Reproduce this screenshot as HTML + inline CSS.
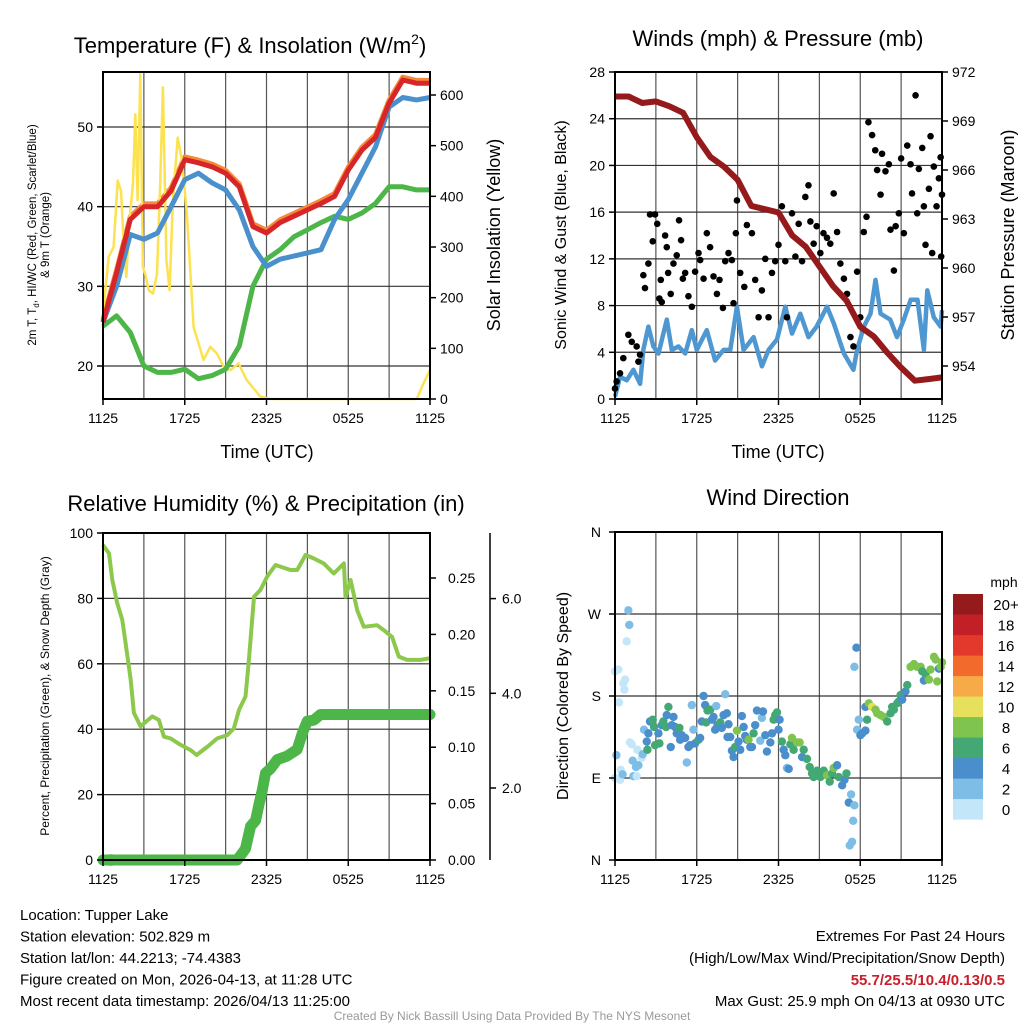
<!DOCTYPE html>
<html><head><meta charset="utf-8"><style>
body{margin:0;background:#fff}
svg{display:block;font-family:"Liberation Sans",Arial,sans-serif}
</style></head><body>
<svg id="fig" width="1024" height="1024" viewBox="0 0 1024 1024">
<rect width="1024" height="1024" fill="#fff"/>
</svg>
<script>
// ---------- data ----------
const xTickLabels = ["1125","1725","2325","0525","1125"];
// Panel 1: temperatures (hourly)
const tempHours = [0,1,2,3,4,5,6,7,8,9,10,11,12,13,14,15,16,17,18,19,20,21,22,23,24];
const tempRed = [25.5,31.7,38.4,40,40,42,45.9,45.5,45,44.2,42.5,37.5,36.7,38,38.8,39.6,40.4,41.3,44.6,47.1,48.7,53,55.9,55.5,55.5];
const tempBlue = [25.5,30,36.5,35.9,36.7,40,43.4,44.2,43,42.1,39.6,35,32.5,33.4,33.8,34.2,34.6,38.4,40.9,44.2,47.5,52.5,53.7,53.4,53.7];
const tempGreen = [25,26.3,24.2,20,19.2,19.2,19.6,18.4,18.8,19.6,22.5,30,33.4,34.6,36.2,37.1,38,38.8,38.4,39.2,40.4,42.5,42.5,42.1,42.1];
const solarHours = [0,.42,.78,1.08,1.32,1.52,1.71,1.96,2.2,2.37,2.54,2.74,2.93,3.1,3.35,3.67,3.96,4.2,4.4,4.65,4.89,5.13,5.48,5.8,6.16,6.65,7.38,7.87,8.36,8.85,9.34,9.95,10.56,11.54,12.27,23.03,23.52,24];
const solarVals = [169,280,300,431,411,307,241,359,425,562,392,641,260,247,215,208,247,425,615,274,215,392,516,470,366,142,77,103,90,64,57,70,37,5,0,0,31,57];
const leftTicks1 = [20,30,40,50];
const rightTicks1 = [0,100,200,300,400,500,600];
// Panel 2: winds & pressure
const presHours = [0,1,2,3,4,5,6,7,8,9,10,11,12,13,14,15,16,17,18,19,20,21,22,23,24];
const presVals = [970.5,970.5,970.1,970.2,969.9,969.5,968.0,966.8,966.2,965.4,963.8,963.6,963.4,962.0,961.3,960.1,958.9,958.0,956.4,955.8,954.8,953.9,953.1,953.2,953.3];
const windHours = [0,.37,.86,1.35,1.84,2.08,2.45,2.82,3.19,3.8,4.17,4.66,5.15,5.64,6.0,6.74,7.35,7.97,8.46,8.95,9.44,10.17,10.78,11.27,11.89,12.5,12.99,13.6,14.2,14.8,15.56,16.05,16.8,17.5,17.77,18.26,18.75,19.12,19.49,20.2,20.7,21.2,21.7,22.2,22.67,22.92,23.4,23.9,24];
const windVals = [0.2,1.9,1.6,2.5,1.3,4.2,6.2,4.5,3.9,6.8,4.2,4.5,3.9,5.9,4.2,5.9,3.3,4.2,4.2,7.9,4.2,5.3,2.8,4.2,5.1,7.9,5.6,7.3,5.3,6.2,7.9,6.5,3.9,2.5,4.2,6.2,7.3,10.2,7.3,6.8,5.3,6.8,8.5,8.5,4.2,9.3,7.0,6.2,7.6];
const gustHours = [0,.12,.37,.61,.98,1.23,1.59,1.72,1.84,2.08,2.2,2.45,2.57,2.77,2.94,3.1,3.26,3.36,3.43,3.68,3.8,3.9,4.09,4.29,4.53,4.7,4.85,4.98,5.15,5.39,5.64,5.88,6.13,6.25,6.5,6.74,6.98,7.23,7.48,7.67,7.92,8.09,8.33,8.58,8.7,8.87,8.95,9.19,9.49,9.68,10.05,10.29,10.54,10.78,11.03,11.27,11.52,11.76,12.0,12.25,12.5,12.62,12.99,13.24,13.48,13.73,13.97,14.2,14.34,14.58,14.8,15.07,15.3,15.56,15.8,16.05,16.3,16.54,16.8,17.03,17.28,17.5,17.77,18.0,18.26,18.46,18.6,18.87,19.1,19.24,19.49,19.6,19.85,20.1,20.22,20.47,20.6,20.83,21.0,21.2,21.45,21.69,21.8,22.06,22.18,22.3,22.55,22.67,22.79,23.04,23.16,23.28,23.4,23.6,23.77,23.9,23.94,24];
const gustVals = [0.9,1.5,2.2,3.5,5.5,4.9,4.5,3.2,3.8,10.6,9.5,11.6,15.8,13.5,15.8,15.0,8.6,10.2,8.3,14.0,13.0,10.8,9.0,11.6,12.3,15.3,13.6,10.3,10.8,8.8,7.9,10.9,12.5,11.9,10.3,14.2,13.0,10.5,9.0,10.2,7.8,11.8,12.5,11.9,8.2,14.2,17.0,10.8,9.6,14.9,14.2,10.2,7.0,9.3,12.0,7.0,10.8,11.8,13.2,16.5,11.8,7.0,15.9,12.2,15.0,11.8,17.3,18.3,15.2,13.3,14.8,12.5,14.2,13.8,13.3,17.6,14.3,11.6,10.3,9.0,5.3,4.5,10.9,7.0,14.3,15.6,23.7,22.6,21.3,19.6,17.5,21.0,19.5,20.1,14.5,11.0,14.8,15.9,20.6,14.2,21.7,20.1,17.6,26.0,15.9,19.7,21.5,16.5,13.2,18.0,22.5,12.5,19.9,16.5,18.9,20.7,12.2,17.5];
const windTicks = [0,4,8,12,16,20,24,28];
const presTicks = [954,957,960,963,966,969,972];
// Panel 3: RH & precip
const rhHours = [0,.44,.68,1.05,1.42,1.66,2.03,2.27,2.76,3.62,4.1,4.47,4.96,5.7,6.43,6.87,7.65,8.39,9.12,9.6,9.98,10.46,10.71,11.08,11.56,12.05,12.66,13.76,14.25,14.87,15.48,16.2,16.94,17.68,17.8,18.17,18.66,19.14,20.12,20.6,21.22,21.71,22.32,23.3,24];
const rhVals = [96.3,93.8,85.6,78.5,73.4,66.3,55.1,45,40.9,43.9,42.8,37.7,37.2,35.2,33.6,32.1,34.6,37.2,38.2,40.2,45.9,50,61.2,80.5,82.6,86.7,90.2,88.7,88.7,93.3,92.2,90.7,87.6,90.7,80.5,85.6,76.4,71.3,71.8,70.3,68.2,62.2,61.2,61.2,61.7];
const precipHours = [0,9.85,10.46,10.83,11.2,11.44,11.69,11.93,12.3,12.79,13.5,14.25,14.62,14.99,15.48,15.96,24];
const precipVals = [0,0,.010,.030,.035,.049,.062,.077,.081,.089,.092,.098,.112,.123,.124,.129,.129];
const rhTicks = [0,20,40,60,80,100];
const precipTicks = ["0.00","0.05","0.10","0.15","0.20","0.25"];
const snowTicks = ["2.0","4.0","6.0"];
// Panel 4: wind direction
const dirHours = [0,.25,.61,.74,.69,.3,.86,.98,1.05,.1,0,.37,.42,.56,1.1,1.23,1.35,1.59,1.54,1.72,1.3,1.64,1.96,2.03,2.13,2.33,2.38,2.45,2.57,2.77,2.87,2.94,3.19,3.26,3.43,3.55,3.75,3.8,3.92,4.09,4.17,4.29,4.41,4.53,4.73,4.78,4.9,5.15,5.27,5.39,5.51,5.64,5.76,5.88,6.13,6.25,6.37,6.5,6.62,6.69,6.79,6.99,7.11,7.23,7.35,7.43,7.52,7.72,7.84,7.97,8.09,8.21,8.26,8.33,8.46,8.58,8.7,8.82,8.95,9.07,9.19,9.31,9.44,9.56,9.68,9.8,9.93,10.05,10.17,10.29,10.42,10.66,10.78,10.86,11.03,11.15,11.4,11.52,11.64,11.76,11.89,12.0,12.08,12.25,12.38,12.5,12.62,12.75,12.87,12.99,13.11,13.36,13.55,13.73,13.85,14.09,14.29,14.46,14.58,14.83,15.07,15.32,15.56,15.76,15.93,16.05,16.3,16.42,16.67,16.84,16.99,17.16,17.33,17.57,17.48,17.4,17.23,17.57,17.72,17.77,17.89,18.01,18.14,18.38,18.5,18.38,18.63,18.87,19.12,19.24,19.49,19.73,19.98,20.22,20.34,20.47,20.71,20.83,20.96,21.08,21.32,21.45,21.69,21.94,22.18,22.43,22.55,22.67,22.79,23.04,23.16,23.41,23.53,23.65,23.77,23.9,24];
const dirDeg = [207,209,194,198,187,173,240,274,258,115,90,88,99,94,129,127,92,92,102,104,109,121,112,116,143,130,121,139,152,154,146,126,139,128,148,152,146,159,168,124,148,157,146,139,145,132,137,134,107,124,126,170,143,128,132,134,152,180,170,151,164,165,154,157,143,169,148,151,145,159,182,161,135,149,135,120,113,124,142,130,121,158,146,136,132,132,124,124,139,148,164,131,156,163,137,119,129,139,154,159,162,143,154,130,121,115,101,100,127,134,121,129,129,113,121,111,102,95,91,98,91,98,93,86,95,101,104,91,82,88,95,63,72,60,43,20,16,212,233,143,154,137,139,142,154,168,172,168,165,161,159,157,152,161,168,165,172,174,181,176,185,192,212,215,212,212,207,197,204,198,209,223,220,196,210,212,217];
const dirSpeed = [1,1,1,1,1,1,1,3,3,3,1,1,1,3,1,1,3,1,3,3,3,1,1,3,3,5,7,5,5,7,7,7,5,7,5,7,7,5,7,5,5,5,5,5,7,5,5,5,3,5,5,3,3,5,7,5,5,5,5,7,7,7,5,5,5,3,5,7,5,5,3,5,5,5,5,5,5,7,9,5,5,5,5,5,5,9,5,5,7,5,5,3,3,5,5,5,5,5,7,7,7,5,5,7,5,5,3,5,7,9,7,9,9,5,7,7,7,7,7,7,7,7,9,7,7,9,5,7,5,5,7,5,3,3,3,3,3,3,5,3,3,5,5,5,7,5,9,11,9,9,9,9,7,7,7,7,7,7,7,5,5,7,9,9,9,9,7,5,7,9,9,9,9,9,5,9,9];
const dirLabels = ["N","E","S","W","N"];
const speedBinLabels = ["0","2","4","6","8","10","12","14","16","18","20+"];
const speedBinColors = ["#c3e7f8","#7dbde6","#4a8ecb","#44a874","#7fc44e","#e6e05c","#f7aa48","#f26a2c","#e2392c","#c21f26","#951a1c"];

// ---------- helpers ----------
const NS="http://www.w3.org/2000/svg";
const svg=document.getElementById('fig');
function mk(tag,attrs,parent){const e=document.createElementNS(NS,tag);for(const k in attrs)e.setAttribute(k,attrs[k]);(parent||svg).appendChild(e);return e;}
function txt(s,x,y,size,anchor,parent,extra){const e=mk('text',Object.assign({x:x,y:y,'font-size':size,'text-anchor':anchor||'middle',fill:'#000'},extra||{}),parent);e.textContent=s;return e;}
function linear(d0,d1,r0,r1){return v=>r0+(v-d0)/(d1-d0)*(r1-r0);}
function pathD(xs,ys,fx,fy){return xs.map((h,i)=>(i?'L':'M')+fx(h).toFixed(1)+','+fy(ys[i]).toFixed(1)).join('');}

function frame(name,L,T,R,B,xs,hLines){
  const g=mk('g',{});
  
  
  for(let h=3;h<24;h+=3){const x=xs(h);mk('line',{x1:x,y1:T,x2:x,y2:B,stroke:'#555','stroke-width':1.2},g);}
  hLines.forEach(y=>mk('line',{x1:L,y1:y,x2:R,y2:y,stroke:'#333','stroke-width':1.2},g));
  return g;
}
function border(L,T,R,B){const r=mk('rect',{x:L,y:T,width:R-L,height:B-T,fill:'none',stroke:'#000','stroke-width':2});
  }
function xTicks(xs,B,name){
  const g=mk('g',{});
  
  
  xTickLabels.forEach((l,i)=>{const x=xs(i*6);mk('line',{x1:x,y1:B,x2:x,y2:B+6,stroke:'#000','stroke-width':1.5},g);txt(l,x,B+24,14,'middle',g);});
}

// ---------- Panel 1 ----------
(function(){
  const L=103,T=72,R=430,B=399;
  const xs=linear(0,24,L,R), yT=linear(20,50,366,127), yS=linear(0,600,399,95);
  frame('temp-grid',L,T,R,B,xs,leftTicks1.map(yT));
  const o=mk('path',{d:pathD(tempHours,tempRed.map(v=>v+0.35),xs,yT),fill:'none',stroke:'#f58a3a','stroke-width':5,'stroke-linejoin':'round'});
  
  const s=mk('path',{d:pathD(solarHours,solarVals,xs,yS),fill:'none',stroke:'#fde24f','stroke-width':2.5,'stroke-linejoin':'round'});
  
  const gr=mk('path',{d:pathD(tempHours,tempGreen,xs,yT),fill:'none',stroke:'#4cb648','stroke-width':5,'stroke-linejoin':'round'});
  
  const bl=mk('path',{d:pathD(tempHours,tempBlue,xs,yT),fill:'none',stroke:'#4a90cc','stroke-width':5,'stroke-linejoin':'round'});
  
  const rd=mk('path',{d:pathD(tempHours,tempRed,xs,yT),fill:'none',stroke:'#d7262a','stroke-width':5,'stroke-linejoin':'round'});
  
  border(L,T,R,B);
  leftTicks1.forEach(v=>{mk('line',{x1:L-6,y1:yT(v),x2:L,y2:yT(v),stroke:'#000','stroke-width':1.5});txt(String(v),L-10,yT(v)+5,14,'end');});
  rightTicks1.forEach(v=>{mk('line',{x1:R,y1:yS(v),x2:R+6,y2:yS(v),stroke:'#000','stroke-width':1.5});txt(String(v),R+10,yS(v)+5,14,'start');});
  xTicks(xs,B,'temp-x-ticks');
  const t=txt('Temperature (F) & Insolation (W/m',250,53,22,'middle');
  const ts=mk('tspan',{dy:-9,'font-size':14},t);ts.textContent='2';
  const ts2=mk('tspan',{dy:9},t);ts2.textContent=')';
  const yl=mk('g',{transform:'translate(40,235) rotate(-90)'});
  const l1=txt('2m T, T',0,-4,11.5,'middle',yl);
  const sub=mk('tspan',{dy:3,'font-size':8},l1);sub.textContent='d';
  const rest=mk('tspan',{dy:-3},l1);rest.textContent=', HI/WC (Red, Green, Scarlet/Blue)';
  txt('& 9m T (Orange)',0,9,11.5,'middle',yl);
  const xl=txt('Time (UTC)',267,458,18);
  const yr=txt('Solar Insolation (Yellow)',0,0,18,'middle',null,{transform:'translate(500,235) rotate(-90)'});
})();

// ---------- Panel 2 ----------
(function(){
  const L=615,T=72,R=942,B=399;
  const xs=linear(0,24,L,R), yW=linear(0,28,B,T), yP=linear(954,972,366,72);
  frame('wind-grid',L,T,R,B,xs,windTicks.slice(1,7).map(yW));
  const bl=mk('path',{d:pathD(windHours,windVals,xs,yW),fill:'none',stroke:'#4f97d1','stroke-width':4.5,'stroke-linejoin':'round'});
  
  const gg=mk('g',{});
  gustHours.forEach((h,i)=>{const c=mk('circle',{cx:xs(h),cy:yW(gustVals[i]),r:3.3,fill:'#000'},gg);
    
    });
  const pr=mk('path',{d:pathD(presHours,presVals,xs,yP),fill:'none',stroke:'#951a1c','stroke-width':6,'stroke-linejoin':'round'});
  
  border(L,T,R,B);
  windTicks.forEach(v=>{mk('line',{x1:L-6,y1:yW(v),x2:L,y2:yW(v),stroke:'#000','stroke-width':1.5});txt(String(v),L-10,yW(v)+5,14,'end');});
  presTicks.forEach(v=>{mk('line',{x1:R,y1:yP(v),x2:R+6,y2:yP(v),stroke:'#000','stroke-width':1.5});txt(String(v),R+10,yP(v)+5,14,'start');});
  xTicks(xs,B,'wind-x-ticks');
  const t=txt('Winds (mph) & Pressure (mb)',778,46,22);
  const xl=txt('Time (UTC)',778,458,18);
  const yl=txt('Sonic Wind & Gust (Blue, Black)',0,0,16,'middle',null,{transform:'translate(566,235) rotate(-90)'});
  const yr=txt('Station Pressure (Maroon)',0,0,18,'middle',null,{transform:'translate(1014,235) rotate(-90)'});
})();

// ---------- Panel 3 ----------
(function(){
  const L=103,T=533,R=430,B=860;
  const xs=linear(0,24,L,R), yR=linear(0,100,B,T), yPc=linear(0,0.25,B,578);
  frame('rh-grid',L,T,R,B,xs,rhTicks.slice(1,5).map(yR));
  mk('circle',{cx:L+8,cy:B,r:6,fill:'#bbb'});
  const pc=mk('path',{d:pathD(precipHours,precipVals,xs,yPc),fill:'none',stroke:'#4cb648','stroke-width':11,'stroke-linejoin':'round','stroke-linecap':'round'});
  
  const rh=mk('path',{d:pathD(rhHours,rhVals,xs,yR),fill:'none',stroke:'#8cc84c','stroke-width':4,'stroke-linejoin':'round'});
  
  border(L,T,R,B);
  rhTicks.forEach(v=>{mk('line',{x1:L-6,y1:yR(v),x2:L,y2:yR(v),stroke:'#000','stroke-width':1.5});txt(String(v),L-10,yR(v)+5,14,'end');});
  precipTicks.forEach(v=>{const y=yPc(parseFloat(v));mk('line',{x1:R,y1:y,x2:R+6,y2:y,stroke:'#000','stroke-width':1.5});txt(v,R+18,y+5,14,'start');});
  mk('line',{x1:490,y1:T,x2:490,y2:B,stroke:'#000','stroke-width':1.5});
  snowTicks.forEach((v,i)=>{const y=788-i*94.7;mk('line',{x1:490,y1:y,x2:496,y2:y,stroke:'#000','stroke-width':1.5});txt(v,502,y+5,14,'start');});
  xTicks(xs,B,'rh-x-ticks');
  const t=txt('Relative Humidity (%) & Precipitation (in)',266,511,22);
  const yl=txt('Percent, Precipitation (Green), & Snow Depth (Gray)',0,0,12,'middle',null,{transform:'translate(49,696) rotate(-90)'});
})();

// ---------- Panel 4 ----------
(function(){
  const L=615,T=532,R=942,B=860;
  const xs=linear(0,24,L,R), yD=linear(0,360,B,T);
  frame('direction-grid',L,T,R,B,xs,[90,180,270].map(yD));
  const g=mk('g',{});
  dirHours.forEach((h,i)=>{const bin=Math.min(10,Math.floor(dirSpeed[i]/2));
    const c=mk('circle',{cx:xs(h),cy:yD(dirDeg[i]),r:4.2,fill:speedBinColors[bin]},g);
    
    });
  border(L,T,R,B);
  dirLabels.forEach((l,i)=>{const y=yD(i*90);mk('line',{x1:L-6,y1:y,x2:L,y2:y,stroke:'#000','stroke-width':1.5});txt(l,L-14,y+5,14,'end');});
  xTicks(xs,B,'direction-x-ticks');
  const t=txt('Wind Direction',778,505,22);
  const yl=txt('Direction (Colored By Speed)',0,0,16,'middle',null,{transform:'translate(568,696) rotate(-90)'});
  const cb=mk('g',{});
  speedBinLabels.forEach((l,i)=>{const y=594+(10-i)*20.5;mk('rect',{x:953,y:y,width:30,height:20.6,fill:speedBinColors[i]},cb);txt(l,1006,y+16,15,'middle',cb);});
  txt('mph',1004,587,14,'middle',cb);
})();

// ---------- footer ----------
(function(){
  const g=mk('g',{});
  ["Location: Tupper Lake","Station elevation: 502.829 m","Station lat/lon: 44.2213; -74.4383","Figure created on Mon, 2026-04-13, at 11:28 UTC","Most recent data timestamp: 2026/04/13 11:25:00"].forEach((s,i)=>txt(s,20,920+i*21.5,15,'start',g));
  const e=mk('g',{});
  txt('Extremes For Past 24 Hours',1005,941,15,'end',e);
  txt('(High/Low/Max Wind/Precipitation/Snow Depth)',1005,963,15,'end',e);
  txt('55.7/25.5/10.4/0.13/0.5',1005,985,15,'end',e,{fill:'#c8202a','font-weight':'bold'});
  txt('Max Gust: 25.9 mph On 04/13 at 0930 UTC',1005,1006,15,'end',e);
  const c=txt('Created By Nick Bassill Using Data Provided By The NYS Mesonet',512,1020,12,'middle',null,{fill:'#999'});
  
})();
</script>
</body></html>
